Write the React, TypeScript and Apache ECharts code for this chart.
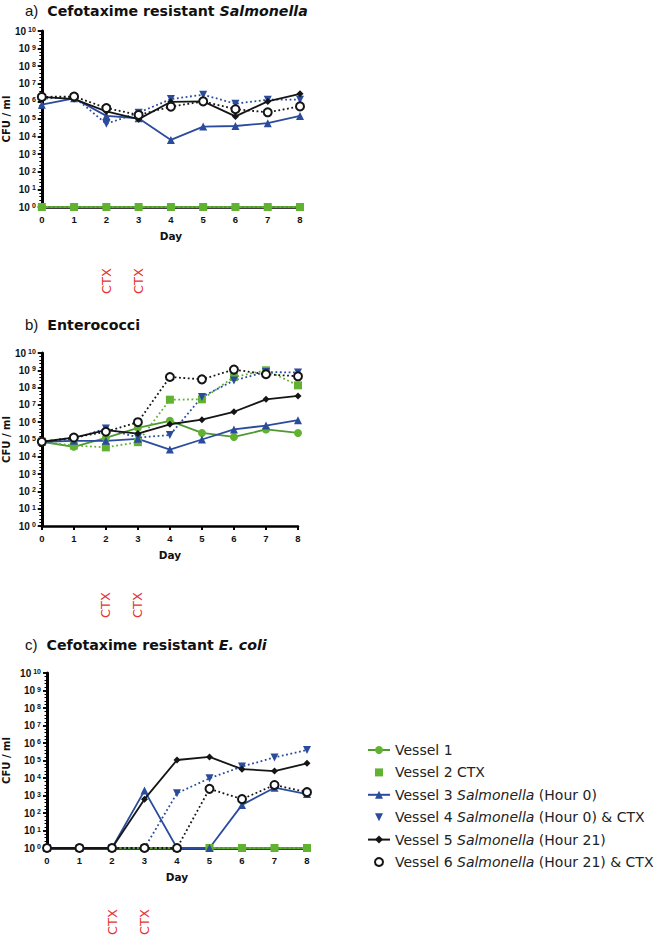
import { useEffect, useRef } from 'react';
import * as echarts from 'echarts';

// ---------------- Data ----------------
const DAYS = [0, 1, 2, 3, 4, 5, 6, 7, 8];
const CTX_DAYS = [2, 3];

const SERIES_NAMES = [
  'Vessel 1',
  'Vessel 2 CTX',
  'Vessel 3 Salmonella (Hour 0)',
  'Vessel 4 Salmonella (Hour 0) & CTX',
  'Vessel 5 Salmonella (Hour 21)',
  'Vessel 6 Salmonella (Hour 21) & CTX',
];

// a) Cefotaxime resistant Salmonella (CFU/ml)
const salV1 = [1, 1, 1, 1, 1, 1, 1, 1, 1];
const salV2 = [1, 1, 1, 1, 1, 1, 1, 1, 1];
const salV3 = [6.5e5, 1.5e6, 1.5e5, 1.1e5, 6.5e3, 3.7e4, 4.0e4, 5.8e4, 1.5e5];
const salV4 = [1.4e6, 1.8e6, 5.3e4, 2.3e5, 1.35e6, 2.4e6, 7.4e5, 1.25e6, 1.25e6];
const salV5 = [1.8e6, 1.35e6, 2.7e5, 9.8e4, 9.5e5, 1.0e6, 1.4e5, 1.0e6, 2.7e6];
const salV6 = [1.8e6, 1.9e6, 4.2e5, 1.7e5, 5.0e5, 1.0e6, 3.6e5, 2.4e5, 5.2e5];

// b) Enterococci
const entV1 = [7.4e4, 3.8e4, 1.25e5, 4.7e5, 1.2e6, 2.4e5, 1.4e5, 3.8e5, 2.4e5];
const entV2 = [7.4e4, 4.5e4, 3.5e4, 7.0e4, 2.0e7, 2.1e7, 4.1e8, 1.0e9, 1.35e8];
const entV3 = [7.4e4, 8.4e4, 8.4e4, 1.1e5, 2.6e4, 1.0e5, 3.8e5, 6.4e5, 1.3e6];
const entV4 = [7.4e4, 1.1e5, 4.3e5, 1.3e5, 1.8e5, 2.9e7, 2.6e8, 8.0e8, 7.4e8];
const entV5 = [7.4e4, 1.3e5, 3.5e5, 2.2e5, 7.6e5, 1.4e6, 4.0e6, 2.1e7, 3.3e7];
const entV6 = [7.4e4, 1.3e5, 2.8e5, 1.0e6, 4.1e8, 3.0e8, 1.1e9, 5.9e8, 4.5e8];

// c) Cefotaxime resistant E. coli
const ecoV1 = [1, 1, 1, 1, 1, 1, 1, 1, 1];
const ecoV2 = [null, null, null, null, null, 1, 1, 1, 1];
const ecoV3 = [1, 1, 1, 1.9e3, 1, 1, 2.9e2, 2.8e3, 1.2e3];
const ecoV4 = [1, 1, 1, 1, 1.35e3, 9.6e3, 4.5e4, 1.5e5, 4.0e5];
const ecoV5 = [1, 1, 1, 6.2e2, 1.07e5, 1.6e5, 3.2e4, 2.5e4, 6.9e4];
const ecoV6 = [1, 1, 1, 1, 1, 2.4e3, 6.2e2, 4.0e3, 1.55e3];

const PANELS = [
  { label: 'a)', title: 'Cefotaxime resistant ', titleItalic: 'Salmonella', data: [salV1, salV2, salV3, salV4, salV5, salV6] },
  { label: 'b)', title: 'Enterococci', titleItalic: '', data: [entV1, entV2, entV3, entV4, entV5, entV6] },
  { label: 'c)', title: 'Cefotaxime resistant ', titleItalic: 'E. coli', data: [ecoV1, ecoV2, ecoV3, ecoV4, ecoV5, ecoV6] },
];

// ---------------- Styles ----------------
const GREEN = '#62b232';
const GREEN_LINE = '#4f9a30';
const BLUE = '#2b4c9c';
const BLACK = '#151515';
const RED = '#e3342f';
const FONT = 'Liberation Sans';
const WIDE = 'DejaVu Sans';

const STYLES = [
  { color: GREEN, line: GREEN_LINE, symbol: 'circle', size: 8, rotate: 0, dotted: false },
  { color: GREEN, line: GREEN, symbol: 'rect', size: 8, rotate: 0, dotted: true },
  { color: BLUE, line: BLUE, symbol: 'triangle', size: 8, rotate: 0, dotted: false },
  { color: BLUE, line: BLUE, symbol: 'triangle', size: 8, rotate: 180, dotted: true },
  { color: BLACK, line: BLACK, symbol: 'diamond', size: 7, rotate: 0, dotted: false },
  { color: BLACK, line: BLACK, symbol: 'emptyCircle', size: 8, rotate: 0, dotted: true },
];

const GRIDS = [
  { left: 37, top: 31, width: 263, height: 176 },
  { left: 37, top: 353, width: 261, height: 173 },
  { left: 44, top: 673, width: 263, height: 175 },
];
const TITLE_TOP = [3, 317, 637];
const NAME_GAP = [27, 27, 36];
const CTX_OFFSET = [74, 79, 74];

export default function App() {
  const ref = useRef<HTMLDivElement>(null);

  useEffect(() => {
    if (!ref.current) return;
    const chart = echarts.init(ref.current, undefined, { renderer: 'svg' });

    const xAxes = GRIDS.map((_, k) => ({
      type: 'value',
      gridIndex: k,
      min: 0,
      max: 8,
      interval: 1,
      name: 'Day',
      nameLocation: 'middle',
      nameGap: 23,
      nameTextStyle: { fontFamily: WIDE, fontWeight: 'bold', fontSize: 10.5, color: '#111' },
      axisLine: { onZero: false, lineStyle: { color: '#000', width: 2.5 } },
      axisTick: { show: true, length: 4, lineStyle: { color: '#000', width: 2 } },
      axisLabel: { fontFamily: FONT, fontWeight: 'bold', fontSize: 9.5, color: '#111', margin: 7 },
      splitLine: { show: false },
    }));

    const yAxes: any[] = GRIDS.map((_, k) => ({
      type: 'log',
      gridIndex: k,
      logBase: 10,
      min: 1,
      max: 1e10,
      interval: 1,
      name: 'CFU / ml',
      nameLocation: 'middle',
      nameGap: NAME_GAP[k],
      nameTextStyle: { fontFamily: WIDE, fontWeight: 'bold', fontSize: 10, color: '#111' },
      axisLine: { show: true, lineStyle: { color: '#000', width: 3 } },
      axisTick: { show: true, length: 4, lineStyle: { color: '#000', width: 1.5 } },
      axisLabel: {
        fontFamily: FONT,
        fontWeight: 'bold',
        fontSize: 10,
        color: '#111',
        margin: 6,
        formatter: (v: number) => `10{s|${Math.round(Math.log10(v))}}`,
        rich: {
          s: { fontFamily: FONT, fontWeight: 'bold', fontSize: 7, color: '#111', verticalAlign: 'top', padding: [0, 0, 3, 2] },
        },
      },
      splitLine: { show: false },
    }));
    // minor-tick overlay axes (decade exponents), no labels
    GRIDS.forEach((_, k) => {
      yAxes.push({
        type: 'value',
        gridIndex: k,
        min: 0,
        max: 10,
        interval: 1,
        position: 'left',
        axisLine: { show: false },
        axisTick: { show: true, length: 4, lineStyle: { color: '#000', width: 1.5 } },
        axisLabel: { show: false },
        splitLine: { show: false },
        minorTick: { show: true, splitNumber: 5, length: 2.5, lineStyle: { color: '#000', width: 1 } },
        minorSplitLine: { show: false },
      });
    });

    const series: any[] = [];
    PANELS.forEach((p, k) => {
      p.data.forEach((arr, i) => {
        const st = STYLES[i];
        series.push({
          type: 'line',
          name: SERIES_NAMES[i],
          xAxisIndex: k,
          yAxisIndex: k,
          data: DAYS.map((d, j) => [d, arr[j] == null ? '-' : arr[j]]),
          symbol: st.symbol,
          symbolSize: st.size,
          symbolRotate: st.rotate,
          showAllSymbol: true,
          connectNulls: false,
          itemStyle: { color: st.color, borderWidth: st.symbol === 'emptyCircle' ? 2.5 : 0, borderColor: st.color },
          lineStyle: { color: st.line, width: 1.8, type: st.dotted ? [1.8, 2.6] : 'solid' },
          emphasis: { disabled: true },
        });
      });
    });

    const titles = PANELS.map((p, k) => ({
      left: 25,
      top: TITLE_TOP[k],
      padding: 0,
      text: `{p|${p.label}}{t|${p.title}}` + (p.titleItalic ? `{ti|${p.titleItalic}}` : ''),
      textStyle: {
        fontFamily: WIDE,
        fontSize: 14,
        color: '#111',
        rich: {
          p: { fontFamily: FONT, fontSize: 15, fontWeight: 'normal', color: '#111', padding: [0, 9, 0, 0] },
          t: { fontFamily: WIDE, fontWeight: 'bold', fontSize: 14.2, color: '#111' },
          ti: { fontFamily: WIDE, fontWeight: 'bold', fontStyle: 'italic', fontSize: 14.2, color: '#111' },
        },
      },
    }));

    const option: any = {
      animation: false,
      backgroundColor: '#ffffff',
      title: titles,
      grid: GRIDS.map((g) => ({ ...g, containLabel: false })),
      xAxis: xAxes,
      yAxis: yAxes,
      legend: {
        orient: 'vertical',
        left: 362,
        top: 738,
        itemWidth: 22,
        itemHeight: 10,
        itemGap: 8.4,
        selectedMode: false,
        data: SERIES_NAMES.map((n, i) => (STYLES[i].dotted ? { name: n, lineStyle: { opacity: 0 } } : { name: n })),
        formatter: (n: string) => n.replace('Salmonella', '{i|Salmonella}'),
        textStyle: {
          fontFamily: WIDE,
          fontSize: 14,
          color: '#222',
          lineHeight: 14,
          rich: { i: { fontFamily: WIDE, fontSize: 14, fontStyle: 'italic', color: '#222', lineHeight: 14 } },
        },
      },
      series,
    };
    chart.setOption(option);

    const graphics: any[] = [];
    PANELS.forEach((_, k) => {
      const yb = chart.convertToPixel({ yAxisIndex: k } as any, 1) as number;
      CTX_DAYS.forEach((d) => {
        const x = chart.convertToPixel({ xAxisIndex: k } as any, d) as number;
        graphics.push({
          type: 'text',
          x,
          y: yb + CTX_OFFSET[k],
          rotation: Math.PI / 2,
          style: { text: 'CTX', fill: RED, fontFamily: WIDE, fontSize: 13, align: 'center', verticalAlign: 'middle' },
        });
      });
    });
    chart.setOption({ graphic: graphics });

    return () => chart.dispose();
  }, []);

  return <div ref={ref} style={{ width: 660, height: 940, position: 'absolute', left: 0, top: 0 }} />;
}
